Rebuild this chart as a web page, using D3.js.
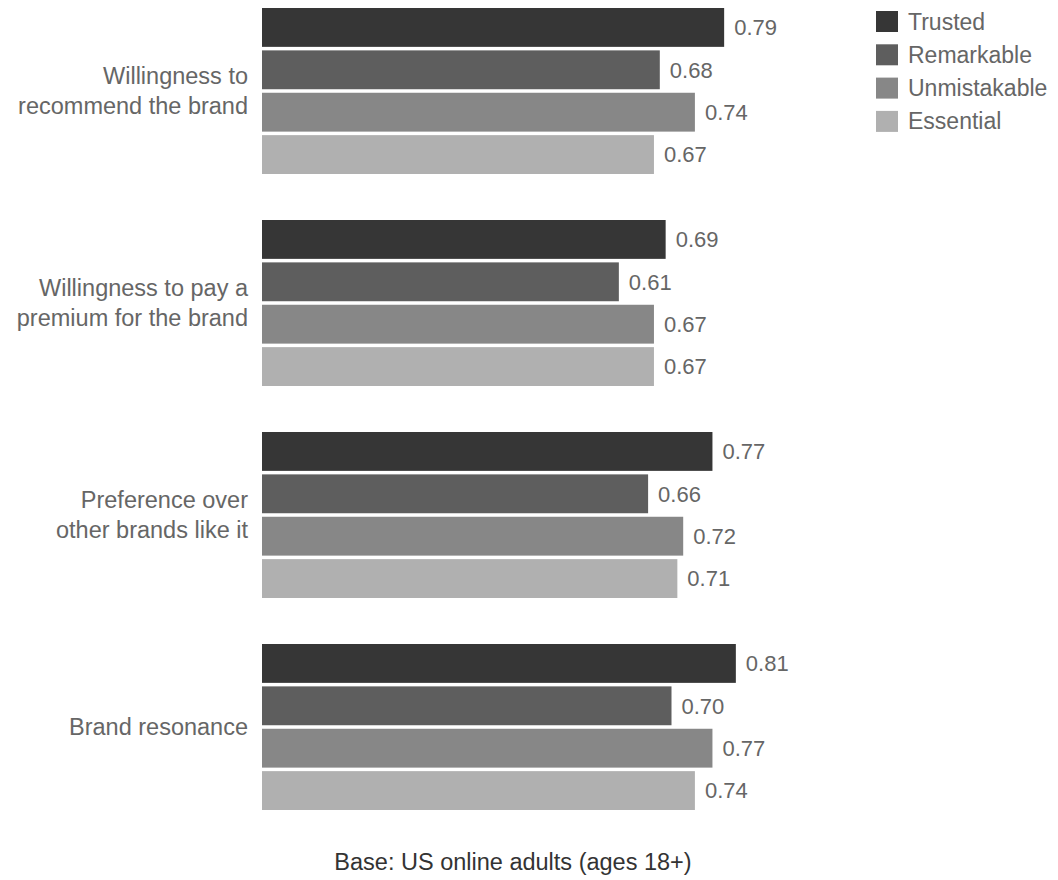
<!doctype html>
<html lang="en">
<head>
    <meta charset="UTF-8">
    <title>Brand outcomes</title>
    <style>
        body { margin: 0; background: #fff; }
        #chart text { font-family: "Liberation Sans", Arial, Helvetica, sans-serif; }
    </style>
</head>
<body>
<svg id="chart" width="1058" height="880"></svg>

<script src="https://cdn.jsdelivr.net/npm/d3@7"></script>
<script>
    var categories = [
        ['Willingness to', 'recommend the brand'],
        ['Willingness to pay a', 'premium for the brand'],
        ['Preference over', 'other brands like it'],
        ['Brand resonance']
    ]
    var series = ['Trusted', 'Remarkable', 'Unmistakable', 'Essential']
    var trusted      = [0.79, 0.69, 0.77, 0.81]
    var remarkable   = [0.68, 0.61, 0.66, 0.70]
    var unmistakable = [0.74, 0.67, 0.72, 0.77]
    var essential    = [0.67, 0.67, 0.71, 0.74]
    var footnote = 'Base: US online adults (ages 18+)'

    var values = [trusted, remarkable, unmistakable, essential]
    var colors = ['#363636', '#5e5e5e', '#878787', '#b0b0b0']

    var svg = d3.select('#chart')

    var yScale = d3.scaleBand()
        .domain(d3.range(categories.length))
        .range([8, 810])
        .paddingInner(0.217)
        .paddingOuter(0)

    var ySub = d3.scaleBand()
        .domain(series)
        .range([0, yScale.bandwidth()])
        .paddingInner(0.083)

    var xScale = d3.scaleLinear().domain([0, 1]).range([262, 847])

    var color = d3.scaleOrdinal().domain(series).range(colors)

    var groups = svg.selectAll('g.group')
        .data(categories)
        .enter().append('g')
        .attr('class', 'group')
        .attr('transform', function(d, i) { return 'translate(0,' + yScale(i) + ')' })

    groups.each(function(cat, ci) {
        var g = d3.select(this)
        var rows = series.map(function(s, si) { return { s: s, v: values[si][ci] } })

        g.selectAll('rect')
            .data(rows)
            .enter().append('rect')
            .attr('x', xScale(0))
            .attr('y', function(d) { return ySub(d.s) })
            .attr('width', function(d) { return xScale(d.v) - xScale(0) })
            .attr('height', ySub.bandwidth())
            .attr('fill', function(d) { return color(d.s) })

        g.selectAll('text.val')
            .data(rows)
            .enter().append('text')
            .attr('class', 'val')
            .attr('x', function(d) { return xScale(d.v) + 10 })
            .attr('y', function(d) { return ySub(d.s) + ySub.bandwidth() / 2 })
            .attr('dy', '0.35em')
            .attr('font-size', 22)
            .attr('fill', '#666')
            .text(function(d) { return d3.format('.2f')(d.v) })

        var lh = 30
        var mid = yScale.bandwidth() / 2
        g.append('text')
            .attr('text-anchor', 'end')
            .attr('font-size', 23.5)
            .attr('fill', '#666')
            .selectAll('tspan')
            .data(cat)
            .enter().append('tspan')
            .attr('x', 248)
            .attr('y', function(d, i) { return mid + (i - (cat.length - 1) / 2) * lh })
            .attr('dy', '0.35em')
            .text(function(d) { return d })
    })

    // legend
    var legend = svg.append('g').attr('transform', 'translate(876,11)')
    var items = legend.selectAll('g')
        .data(series)
        .enter().append('g')
        .attr('transform', function(d, i) { return 'translate(0,' + i * 33.3 + ')' })
    items.append('rect')
        .attr('width', 22).attr('height', 21)
        .attr('fill', function(d) { return color(d) })
    items.append('text')
        .attr('x', 32).attr('y', 10.5).attr('dy', '0.35em')
        .attr('font-size', 23)
        .attr('fill', '#666')
        .text(function(d) { return d })

    svg.append('text')
        .attr('x', 513).attr('y', 862).attr('dy', '0.35em')
        .attr('text-anchor', 'middle')
        .attr('font-size', 23.5)
        .attr('fill', '#333')
        .text(footnote)
</script>
</body>
</html>
